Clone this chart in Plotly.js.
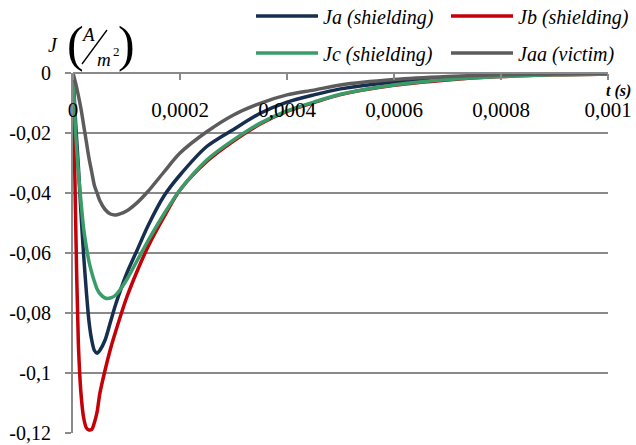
<!DOCTYPE html>
<html>
<head>
<meta charset="utf-8">
<script src="https://cdn.plot.ly/plotly-3.0.1.min.js"></script>
<style>html,body{margin:0;padding:0;background:#fff;}#chart{width:636px;height:445px;}</style>
</head>
<body>
<div id="chart"></div>
<script>
// time (s)
const tSec = [0, 0.000005, 0.00001, 0.000015, 0.00002, 0.000025, 0.00003, 0.000035, 0.00004, 0.000045,
  0.00005, 0.00006, 0.00007, 0.00008, 0.0001, 0.00012, 0.00014, 0.00017, 0.0002, 0.00025,
  0.0003, 0.00035, 0.0004, 0.00045, 0.0005, 0.0006, 0.0007, 0.0008, 0.0009, 0.001];
const Ja = [0, -0.017, -0.031, -0.047, -0.061, -0.073, -0.083, -0.089, -0.0925, -0.0934,
  -0.0925, -0.089, -0.083, -0.077, -0.067, -0.059, -0.051, -0.041, -0.034, -0.0245,
  -0.0188, -0.0134, -0.0097, -0.0073, -0.0053, -0.003, -0.0017, -0.0009, -0.0004, -0.0002];
const Jb = [0, -0.05, -0.09, -0.107, -0.115, -0.1183, -0.119, -0.1188, -0.1165, -0.113,
  -0.107, -0.099, -0.092, -0.086, -0.075, -0.066, -0.058, -0.048, -0.039, -0.0295,
  -0.0227, -0.017, -0.0128, -0.0099, -0.0072, -0.0041, -0.0023, -0.0012, -0.0006, -0.0003];
const Jc = [0, -0.02, -0.033, -0.043, -0.052, -0.058, -0.063, -0.0665, -0.0695, -0.072,
  -0.0735, -0.075, -0.075, -0.074, -0.069, -0.0625, -0.056, -0.047, -0.039, -0.029,
  -0.0223, -0.0167, -0.0126, -0.0097, -0.0071, -0.004, -0.0022, -0.0012, -0.0006, -0.0003];
const Jaa = [0, -0.0035, -0.0075, -0.012, -0.0175, -0.023, -0.0285, -0.033, -0.0375, -0.040,
  -0.0425, -0.0455, -0.047, -0.0473, -0.046, -0.0432, -0.0395, -0.033, -0.0267, -0.0196,
  -0.014, -0.0101, -0.0073, -0.0057, -0.004, -0.0022, -0.0012, -0.0006, -0.0003, -0.0001];

const seriesNames = ['Ja (shielding)', 'Jb (shielding)', 'Jc (shielding)', 'Jaa (victim)'];
const seriesColors = ['#172f4f', '#c40008', '#3a9c68', '#5c5c5c'];
const xTickVals = [0, 0.0002, 0.0004, 0.0006, 0.0008, 0.001];
const xTickText = ['0', '0,0002', '0,0004', '0,0006', '0,0008', '0,001'];
const yTickVals = [0, -0.02, -0.04, -0.06, -0.08, -0.1, -0.12];
const yTickText = ['0', '-0,02', '-0,04', '-0,06', '-0,08', '-0,1', '-0,12'];

(function () {
  const SERIF = 'Liberation Serif';
  const GRID = '#8a8a8a';
  const M = {l: 73, r: 28, t: 73, b: 12, autoexpand: false};
  const W = 636, H = 445;
  const PW = W - M.l - M.r, PH = H - M.t - M.b;
  const toPX = x => (x - M.l) / PW;
  const toPY = y => (H - M.b - y) / PH;

  const legendIds = ['legend', 'legend2', 'legend3', 'legend4'];
  const legendPos = [[251, 16], [446, 16], [251, 53], [446, 53]];

  const traces = [Ja, Jb, Jc, Jaa].map((ys, i) => ({
    x: tSec, y: ys, type: 'scatter', mode: 'lines', name: seriesNames[i],
    line: {color: seriesColors[i], width: 3.5, shape: 'spline', smoothing: 0.8},
    legend: legendIds[i]
  }));

  const legendBase = {
    orientation: 'h', itemwidth: 62,
    font: {family: SERIF, size: 20, style: 'italic', color: '#000'},
    bgcolor: 'rgba(0,0,0,0)', xanchor: 'left', yanchor: 'middle',
    tracegroupgap: 0, itemclick: false
  };

  const ann = (text, x, y, size) => ({
    text: text, xref: 'paper', yref: 'paper', x: toPX(x), y: toPY(y),
    xanchor: 'center', yanchor: 'middle', showarrow: false,
    font: {family: SERIF, size: size, color: '#000'}
  });

  const lay = {
    width: W, height: H, margin: M,
    paper_bgcolor: '#fff', plot_bgcolor: '#fff',
    showlegend: true,
    xaxis: {
      range: [0, 0.001], anchor: 'free', position: 1, side: 'bottom',
      showline: true, linecolor: GRID, linewidth: 2, showgrid: false, zeroline: false,
      ticks: 'outside', ticklen: 6, tickwidth: 1.5, tickcolor: GRID,
      tickmode: 'array', tickvals: xTickVals, ticktext: xTickText,
      tickfont: {family: SERIF, size: 21, color: '#000'}, ticklabelstandoff: 12,
      fixedrange: true
    },
    yaxis: {
      range: [-0.12, 0], showline: true, linecolor: GRID, linewidth: 2,
      showgrid: true, gridcolor: GRID, gridwidth: 1.5, zeroline: false,
      ticks: 'outside', ticklen: 6, tickwidth: 1.5, tickcolor: GRID,
      tickmode: 'array', tickvals: yTickVals, ticktext: yTickText,
      tickfont: {family: SERIF, size: 20, color: '#000'}, ticklabelstandoff: 10,
      fixedrange: true
    },
    annotations: [
      ann('<i>J</i>', 53, 45, 20),
      ann('(', 75, 44, 50),
      ann(')', 126, 44, 50),
      ann('<i>A</i>', 88, 35, 19),
      ann('<i>m</i>', 104, 60, 19),
      ann('2', 116, 52, 13),
      ann('<b><i>t (s)</i></b>', 618, 91, 16)
    ],
    shapes: [
      {type: 'line', xref: 'paper', yref: 'paper', x0: toPX(82), y0: toPY(64), x1: toPX(107), y1: toPY(30),
       line: {color: '#000', width: 1.3}}
    ]
  };
  legendIds.forEach((id, i) => {
    lay[id] = Object.assign({}, legendBase, {x: toPX(legendPos[i][0]), y: toPY(legendPos[i][1])});
  });

  Plotly.newPlot('chart', traces, lay, {displayModeBar: false, staticPlot: true});
})();
</script>
</body>
</html>
